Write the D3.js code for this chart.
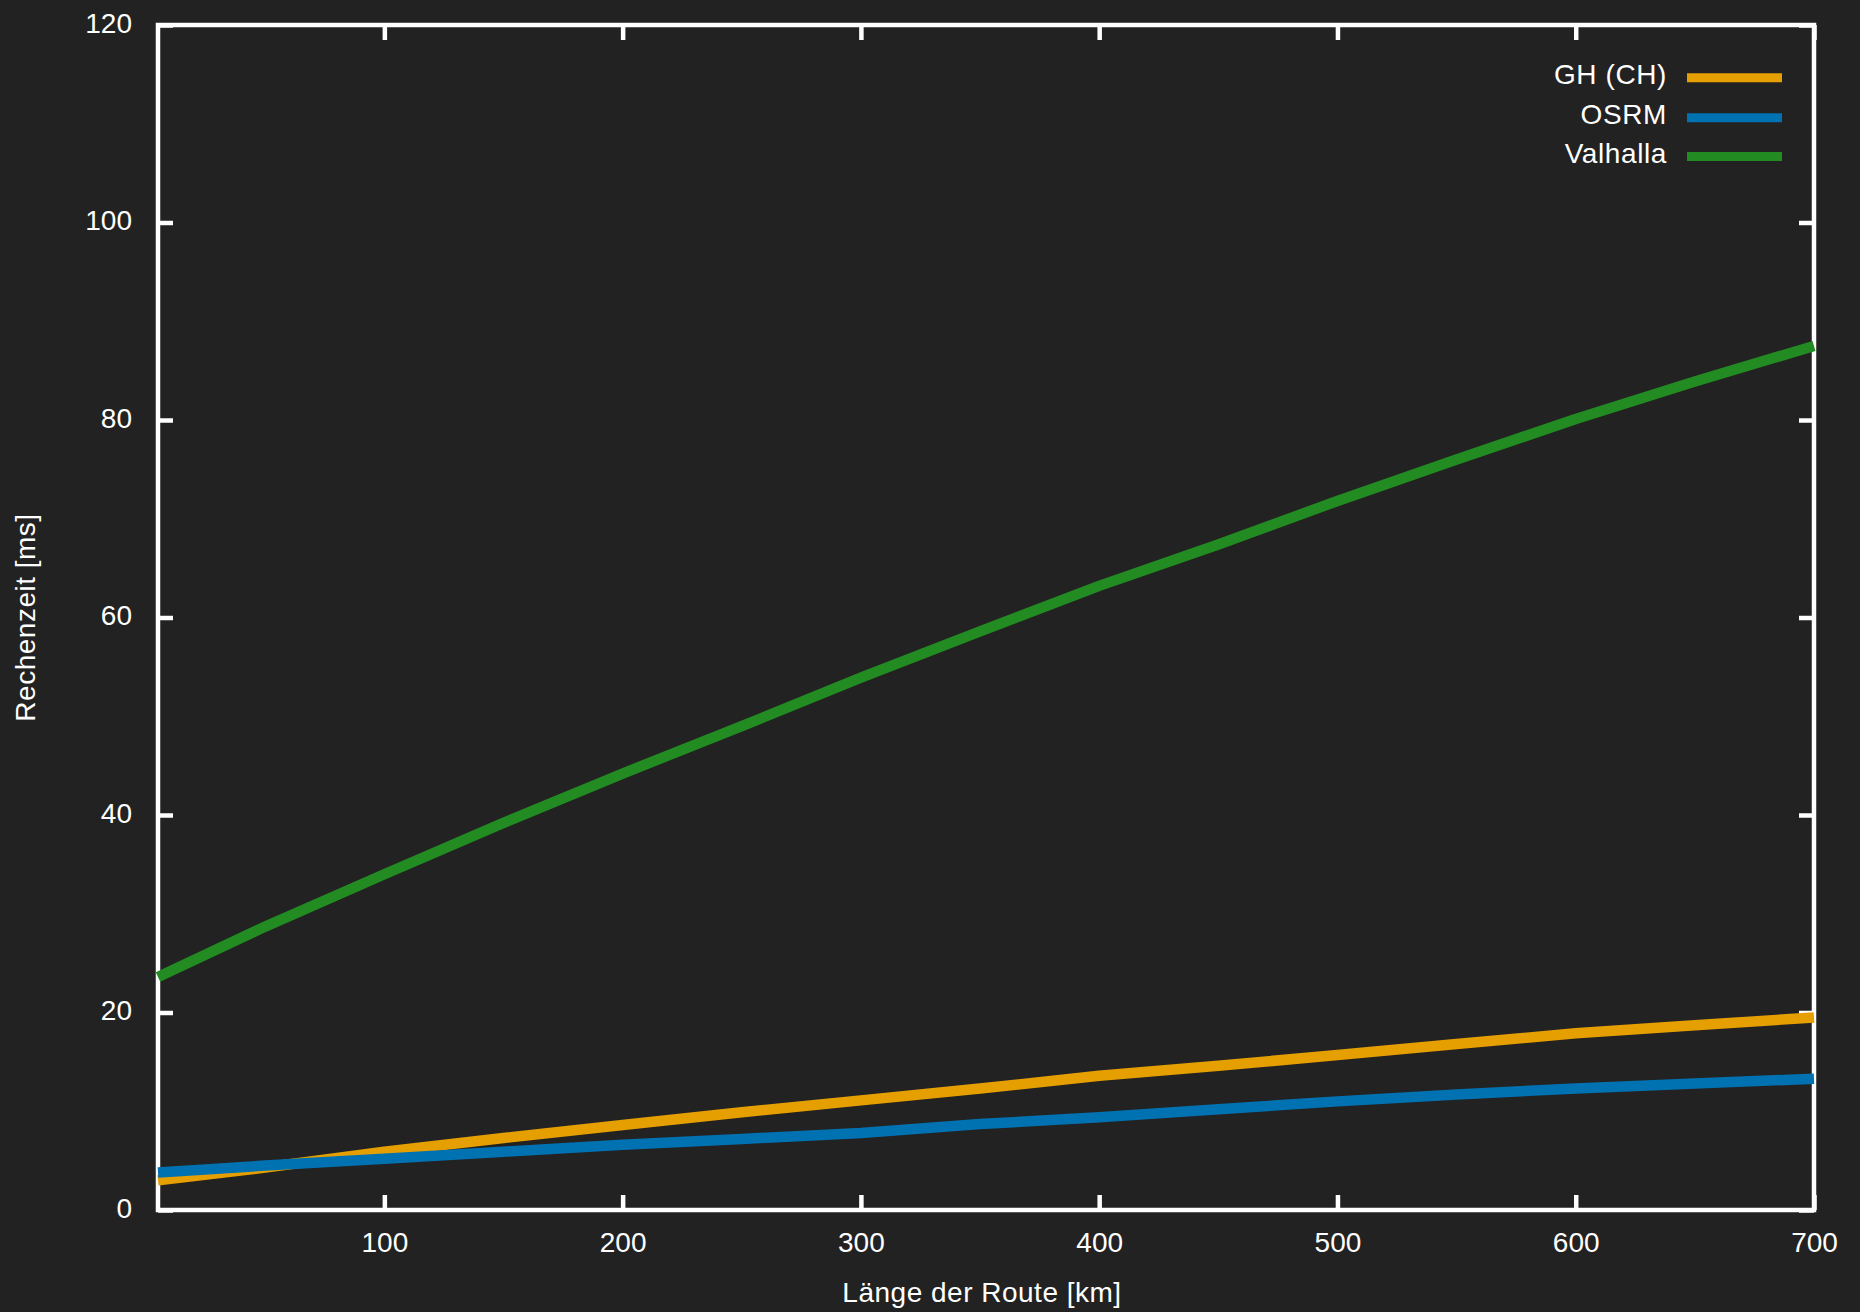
<!DOCTYPE html>
<html>
<head>
<meta charset="utf-8">
<script src="https://cdn.jsdelivr.net/npm/d3@7"></script>
<style>
  html, body { margin: 0; padding: 0; background: #222222; }
  svg { display: block; }
  text { font-family: "Liberation Sans", Arial, sans-serif; fill: #ffffff; }
</style>
</head>
<body>
<script>
// ---- data ----
const distances = [5, 50, 100, 150, 200, 250, 300, 350, 400, 450, 500, 550, 600, 650, 700];
const ghCH      = [3.0, 4.3, 5.9, 7.3, 8.6, 9.9, 11.1, 12.3, 13.6, 14.6, 15.7, 16.8, 17.9, 18.7, 19.5];
const osrm      = [3.8, 4.5, 5.2, 5.9, 6.6, 7.2, 7.8, 8.7, 9.4, 10.2, 11.0, 11.7, 12.3, 12.8, 13.3];
const valhalla  = [23.6, 28.7, 34.0, 39.2, 44.2, 49.0, 53.9, 58.6, 63.2, 67.4, 71.8, 76.0, 80.1, 83.9, 87.5];
const seriesNames  = ["GH (CH)", "OSRM", "Valhalla"];
const seriesColors = ["#e69f00", "#0072b2", "#228b22"];
const xTicks = [100, 200, 300, 400, 500, 600, 700];
const yTicks = [0, 20, 40, 60, 80, 100, 120];
const xDomain = [5, 700];
const yDomain = [0, 120];
const xTitle = "Länge der Route [km]";
const yTitle = "Rechenzeit [ms]";

// ---- layout ----
const W = 1860, H = 1312;
const L = 158, R = 1814, T = 25, B = 1210;
const FS = 28;

const svg = d3.select("body").append("svg").attr("width", W).attr("height", H);
svg.append("rect").attr("width", W).attr("height", H).attr("fill", "#222222");

const x = d3.scaleLinear().domain(xDomain).range([L, R]);
const y = d3.scaleLinear().domain(yDomain).range([B, T]);

// frame
svg.append("rect")
  .attr("x", L).attr("y", T).attr("width", R - L).attr("height", B - T)
  .attr("fill", "none").attr("stroke", "#ffffff").attr("stroke-width", 4.5);

function styleAxis(g) {
  g.select(".domain").remove();
  g.selectAll(".tick line").attr("stroke", "#ffffff").attr("stroke-width", 4.5);
  g.selectAll(".tick text").attr("font-size", FS).attr("fill", "#ffffff")
    .attr("font-family", "Liberation Sans, Arial, sans-serif");
}

// bottom axis
svg.append("g").attr("transform", `translate(0,${B})`)
  .call(d3.axisBottom(x).tickValues(xTicks).tickSizeInner(-15).tickSizeOuter(0).tickPadding(22))
  .call(styleAxis);
// top axis (ticks only)
svg.append("g").attr("transform", `translate(0,${T})`)
  .call(d3.axisTop(x).tickValues(xTicks).tickSizeInner(-15).tickSizeOuter(0).tickFormat(""))
  .call(styleAxis);
// left axis
const gl = svg.append("g").attr("transform", `translate(${L},0)`)
  .call(d3.axisLeft(y).tickValues(yTicks).tickSizeInner(-15).tickSizeOuter(0).tickPadding(26))
  .call(styleAxis);
gl.selectAll(".tick text").attr("dy", "0.25em");
// right axis (ticks only)
svg.append("g").attr("transform", `translate(${R},0)`)
  .call(d3.axisRight(y).tickValues(yTicks).tickSizeInner(-15).tickSizeOuter(0).tickFormat(""))
  .call(styleAxis);

// axis titles
svg.append("text")
  .attr("x", (L + R) / 2 - 4).attr("y", 1302)
  .attr("text-anchor", "middle").attr("font-size", FS)
  .attr("letter-spacing", 0.5)
  .text(xTitle);
svg.append("text")
  .attr("transform", `translate(35,${(T + B) / 2}) rotate(-90)`)
  .attr("text-anchor", "middle").attr("font-size", FS)
  .attr("letter-spacing", 0.5)
  .text(yTitle);

// lines
const allSeries = [ghCH, osrm, valhalla];
const line = d3.line().x(d => x(d[0])).y(d => y(d[1]));
allSeries.forEach((vals, i) => {
  const pts = distances.map((d, j) => [d, vals[j]]);
  svg.append("path")
    .datum(pts)
    .attr("d", line)
    .attr("fill", "none")
    .attr("stroke", seriesColors[i])
    .attr("stroke-width", 10.5)
    .attr("stroke-linejoin", "round");
});

// legend
const legY = [77.7, 117.7, 156.5];
seriesNames.forEach((name, i) => {
  svg.append("text")
    .attr("x", 1667).attr("y", legY[i] + 6)
    .attr("text-anchor", "end").attr("font-size", FS)
    .attr("letter-spacing", 0.6)
    .text(name);
  svg.append("line")
    .attr("x1", 1687).attr("x2", 1782)
    .attr("y1", legY[i]).attr("y2", legY[i])
    .attr("stroke", seriesColors[i]).attr("stroke-width", 9);
});
</script>
</body>
</html>
